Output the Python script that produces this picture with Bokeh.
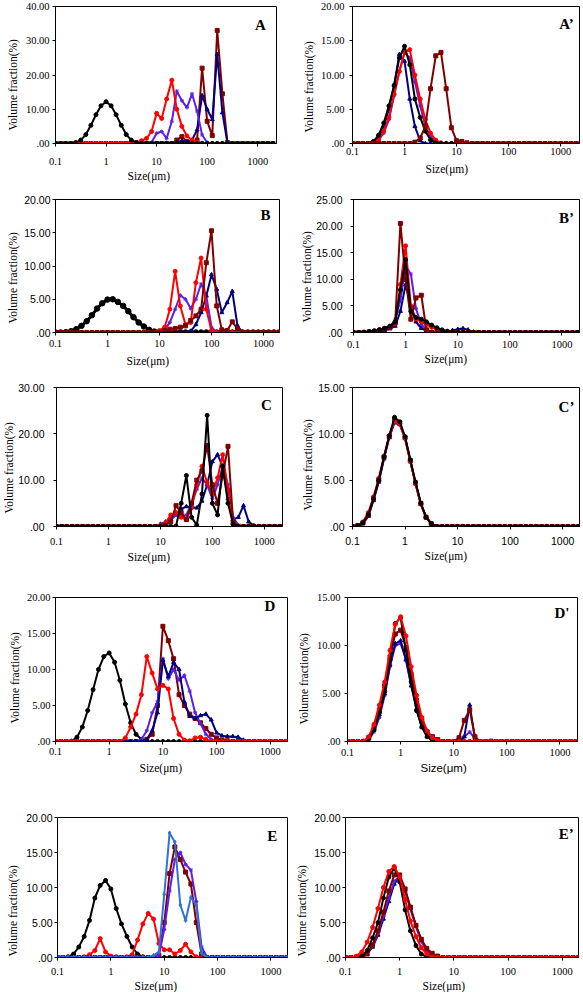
import math
from bokeh.plotting import figure
from bokeh.layouts import column, row
from bokeh.models import Range1d, FixedTicker, CustomJSTickFormatter, Label, Title
from bokeh.embed import file_html
from bokeh.resources import INLINE

# ---------------- data ----------------
SIZES = [0.1, 0.126, 0.158, 0.2, 0.251, 0.316, 0.398, 0.501, 0.631, 0.794,
         1.0, 1.26, 1.58, 2.0, 2.51, 3.16, 3.98, 5.01, 6.31, 7.94,
         10.0, 12.6, 15.8, 20.0, 25.1, 31.6, 39.8, 50.1, 63.1, 79.4,
         100.0, 126.0, 158.0, 200.0, 251.0, 316.0, 398.0, 501.0, 631.0, 794.0,
         1000.0, 1259.0, 1585.0, 1995.0]
N = len(SIZES)


def pad(start, vals):
    return [0.0] * start + list(vals) + [0.0] * (N - start - len(vals))


X_TICKS = [0.1, 1, 10, 100, 1000]
X_LABEL = "Size(μm)"
Y_LABEL = "Volume fraction(%)"

# Panel A
A_BLACK = pad(4, [0.3, 1.0, 2.6, 5.3, 8.4, 11.0, 12.2, 11.0, 8.4, 5.3, 2.6, 1.0, 0.3, 0.05])
A_RED = pad(16, [0.3, 0.8, 1.5, 3.5, 8.8, 7.3, 13.0, 18.5, 10.0, 5.0, 2.2, 1.0, 0.4, 0.1])
A_PURPLE = pad(19, [0.3, 3.0, 3.5, 1.5, 6.5, 15.3, 12.5, 10.5, 14.5, 9.5, 2.5, 0.3])
A_MAROON = pad(24, [1.0, 2.0, 0.5, 0.2, 1.0, 22.0, 6.5, 2.3, 33.0, 14.5, 0.3])
A_NAVY = pad(24, [0.3, 0.8, 0.5, 1.0, 4.0, 14.0, 10.0, 7.0, 26.0, 9.0, 0.3])

# Panel A'
A2_BLACK = pad(4, [0.3, 1.2, 3.0, 5.5, 8.5, 12.5, 14.2, 11.5, 6.5, 3.8, 1.8, 0.5, 0.1])
A2_NAVY = pad(4, [0.2, 0.8, 2.5, 5.0, 8.5, 13.0, 12.0, 6.5, 2.5, 0.4])
A2_PURPLE = pad(5, [0.5, 1.5, 3.5, 7.0, 10.5, 13.3, 12.5, 9.0, 5.5, 2.5, 1.0, 0.3])
A2_RED = pad(4, [0.1, 0.5, 1.8, 3.8, 7.2, 10.5, 13.3, 13.7, 10.0, 6.5, 3.5, 1.5, 0.5, 0.1])
A2_MAROON = pad(12, [0.2, 0.8, 2.5, 8.0, 12.8, 13.3, 8.0, 2.3, 0.4, 0.3, 0.1])

# Panel B
B_BLACK = pad(2, [0.05, 0.2, 0.5, 1.0, 1.7, 2.6, 3.6, 4.4, 4.95, 5.0, 4.6, 4.0, 3.2, 2.3, 1.5, 0.9, 0.4, 0.15])
B_RED = pad(20, [0.3, 0.8, 3.5, 9.2, 4.0, 1.2, 1.5, 7.5, 11.2, 3.5, 0.3])
B_PURPLE = pad(21, [0.5, 1.5, 3.5, 5.6, 5.0, 3.6, 5.0, 7.3, 5.5, 0.8])
B_NAVY = pad(26, [0.2, 1.2, 3.0, 5.5, 8.7, 6.5, 3.0, 4.5, 6.2, 1.0])
B_MAROON = pad(21, [0.3, 0.5, 0.6, 0.8, 1.0, 1.8, 2.5, 3.5, 10.5, 15.3, 4.0, 0.4, 0.3, 1.6, 0.6])

# Panel B'
B2_MAROON = pad(3, [0.1, 0.2, 0.4, 0.7, 1.0, 1.8, 20.5, 10.0, 2.5, 6.5, 7.0, 0.5])
B2_RED = pad(4, [0.2, 0.4, 0.7, 1.1, 1.6, 9.0, 16.3, 5.0, 2.6, 2.0, 1.5, 1.0, 0.6, 0.3, 0.1])
B2_BLACK = pad(2, [0.1, 0.2, 0.35, 0.55, 0.8, 1.2, 2.0, 8.0, 13.7, 4.0, 2.8, 2.5, 2.0, 1.4, 0.9, 0.5, 0.25, 0.1])
B2_PURPLE = pad(5, [0.3, 0.6, 1.0, 2.5, 6.0, 12.5, 11.0, 4.5, 1.5, 0.6, 0.2])
B2_NAVY = pad(6, [0.4, 0.7, 1.2, 4.0, 9.0, 5.0, 2.0, 0.8, 0.3, 0.1, 0.0, 0.0, 0.1, 0.4, 0.6, 0.75, 0.5, 0.1])

# Panel C
C_BLACK = pad(23, [0.1, 5.0, 11.0, 2.0, 0.3, 7.0, 24.0, 5.0, 2.5, 13.0, 5.0, 0.5])
C_MAROON = pad(21, [0.3, 1.0, 4.5, 3.0, 1.5, 5.0, 10.0, 12.0, 17.5, 9.0, 5.0, 11.0, 17.3, 1.0])
C_RED = pad(20, [0.2, 0.8, 2.5, 3.0, 2.0, 1.5, 4.0, 9.0, 13.0, 9.5, 7.0, 10.5, 15.5, 8.0, 0.5])
C_PURPLE = pad(21, [0.5, 1.5, 2.5, 2.0, 2.5, 5.0, 8.0, 10.5, 9.0, 6.0, 9.0, 13.0, 9.0, 2.0, 0.3])
C_NAVY = pad(20, [0.5, 1.0, 1.5, 2.5, 3.8, 4.3, 4.2, 4.0, 5.5, 9.0, 14.0, 15.5, 13.0, 6.0, 1.5, 2.0, 4.5, 1.0, 0.2])

# Panel C'
C2_BLACK = pad(1, [0.1, 0.4, 1.3, 3.0, 5.0, 7.5, 9.8, 11.8, 11.3, 9.7, 7.2, 4.8, 2.5, 1.0, 0.3])
C2_RED = pad(1, [0.1, 0.5, 1.5, 3.2, 5.2, 7.6, 9.8, 11.4, 11.1, 9.5, 7.0, 4.6, 2.4, 1.0, 0.3])
C2_NAVY = pad(1, [0.0, 0.3, 1.1, 2.8, 4.8, 7.3, 9.6, 11.2, 11.0, 9.6, 7.1, 4.7, 2.4, 1.0, 0.3])
C2_PURPLE = pad(1, [0.05, 0.35, 1.2, 2.9, 4.9, 7.4, 9.7, 11.3, 11.0, 9.5, 7.1, 4.7, 2.4, 1.0, 0.3])
C2_MAROON = pad(1, [0.1, 0.4, 1.2, 3.0, 5.0, 7.5, 9.7, 11.5, 11.2, 9.6, 7.1, 4.7, 2.5, 1.0, 0.3])

# Panel D
D_BLACK = pad(3, [0.05, 0.6, 2.0, 4.3, 7.2, 10.0, 11.8, 12.3, 11.0, 8.5, 5.2, 2.6, 1.0, 0.3, 0.05])
D_RED = pad(13, [0.5, 2.0, 3.8, 6.5, 11.8, 9.5, 7.3, 7.8, 7.3, 3.2, 1.0, 0.2, 0.1, 0.5, 0.6, 0.3])
D_PURPLE = pad(16, [0.3, 1.5, 4.0, 5.5, 11.5, 8.7, 10.0, 8.5, 9.2, 7.0, 4.0, 2.5, 1.0, 0.3])
D_MAROON = pad(17, [0.3, 1.0, 5.0, 16.0, 14.0, 11.5, 6.5, 5.0, 3.8, 3.2, 2.6, 1.8, 1.0, 0.5, 0.2, 0.1])
D_NAVY = pad(17, [0.3, 1.5, 4.0, 11.3, 9.0, 11.0, 10.0, 5.5, 3.5, 3.2, 3.6, 3.8, 3.0, 1.2, 0.8, 0.7, 0.7, 0.6, 0.2])

# Panel D'
D2_BLACK = pad(3, [0.05, 0.3, 1.2, 3.0, 5.2, 8.5, 12.3, 12.9, 9.5, 6.2, 3.2, 1.5, 0.5, 0.1])
D2_RED = pad(4, [0.5, 1.8, 3.8, 6.2, 9.5, 12.2, 13.0, 11.0, 7.8, 4.8, 2.5, 1.1, 0.4, 0.1])
D2_MAROON = pad(4, [0.4, 1.5, 3.3, 5.8, 8.8, 11.2, 11.6, 9.8, 7.0, 4.3, 2.2, 1.0, 0.5, 0.2, 0.0, 0.0, 0.0, 0.4, 2.2, 3.3, 0.5])
D2_NAVY = pad(4, [0.3, 1.2, 2.8, 5.0, 8.0, 10.2, 10.5, 8.5, 5.8, 3.4, 1.5, 0.5, 0.1, 0.0, 0.0, 0.0, 0.0, 0.0, 0.5, 3.8, 0.3])
D2_PURPLE = pad(4, [0.2, 1.0, 2.5, 4.8, 7.8, 10.0, 10.2, 8.6, 6.0, 3.6, 1.8, 0.7, 0.2, 0.0, 0.0, 0.0, 0.0, 0.0, 0.5, 1.0, 0.3, 0.0, 0.0, 0.15])

# Panel E
E_BLACK = pad(2, [0.1, 0.5, 1.5, 3.0, 5.3, 8.5, 10.3, 11.0, 9.8, 7.0, 4.8, 3.0, 1.5, 0.5, 0.1])
E_RED = pad(5, [0.1, 0.4, 1.0, 2.7, 0.8, 0.2, 0.1, 0.0, 0.1, 0.4, 2.5, 4.8, 6.3, 5.5, 2.0, 1.1, 1.1, 0.5, 1.0, 1.9, 0.8, 0.1])
E_LIGHTBLUE = pad(18, [0.3, 0.8, 9.0, 17.8, 16.5, 7.5, 5.3, 8.6, 7.5, 0.6])
E_MAROON = pad(19, [0.3, 5.0, 12.0, 15.8, 14.0, 12.2, 10.5, 5.0, 0.5])
E_PURPLE = pad(19, [0.3, 4.0, 9.5, 14.0, 15.0, 13.3, 12.5, 8.0, 1.5, 0.1])

# Panel E'
E2_BLACK = pad(3, [0.2, 1.0, 2.8, 5.0, 8.5, 11.5, 12.8, 10.8, 6.8, 3.8, 1.7, 0.5, 0.1])
E2_RED = pad(2, [0.2, 0.8, 2.2, 4.3, 7.0, 10.0, 12.3, 13.0, 11.5, 8.3, 5.2, 3.0, 1.4, 0.5, 0.1])
E2_NAVY = pad(3, [0.1, 0.5, 1.5, 3.2, 5.5, 8.0, 10.5, 11.5, 9.5, 7.0, 4.5, 2.5, 1.0, 0.3])
E2_PURPLE = pad(3, [0.1, 0.6, 1.7, 3.5, 5.9, 8.5, 10.9, 11.6, 9.6, 7.0, 4.4, 2.3, 0.9, 0.2])
E2_MAROON = pad(4, [0.5, 1.8, 3.8, 6.5, 9.5, 11.8, 11.8, 9.8, 7.2, 4.6, 2.6, 1.3, 0.6, 0.2])

# ---------------- styles ----------------
COLORS = {"black": "#000000", "red": "#FF0000", "purple": "#5B1FE8",
          "navy": "#00007F", "maroon": "#800000", "lightblue": "#2F72D6"}
MARKERS = {"black": "circle", "red": "circle", "purple": "asterisk",
           "navy": "triangle", "maroon": "square", "lightblue": "diamond"}
SERIF = "Liberation Serif"
SANS = "Liberation Sans"

# layout (reference pixel measurements)
COLW = [290, 293]
ROW_REF = [0, 190, 380, 578, 785, 992]
ROW_H = [ROW_REF[i + 1] - ROW_REF[i] for i in range(5)]

# geom = frame (left, right, top, bottom) inside cell; xoff = (tick centre, label centre) below frame
# yoff = (tick gap, label centre) left of frame; ldx = x-label shift from frame centre;
# ldy = y-label shift below frame centre; loff = panel letter offset from top-right corner
PANELS = [
    dict(letter="A", col=0, row=0, ymax=40, ystep=10, xend=2350,
         series=[("maroon", A_MAROON), ("navy", A_NAVY), ("purple", A_PURPLE), ("red", A_RED), ("black", A_BLACK)],
         geom=(54, 276, 5, 143), xoff=(20.3, 30.3), yoff=(6, 44), ldx=-18, ldy=10, loff=(16, 18),
         yf=SERIF, xf=SERIF, lf=SERIF),
    dict(letter="A\u2019", col=1, row=0, ymax=20, ystep=5, xend=2300,
         series=[("navy", A2_NAVY), ("purple", A2_PURPLE), ("red", A2_RED), ("black", A2_BLACK), ("maroon", A2_MAROON)],
         geom=(61.7, 289, 6, 144), xoff=(10.3, 29.3), yoff=(8.4, 43.4), ldx=-19.5, ldy=11.7, loff=(13, 17),
         yf=SERIF, xf=SERIF, lf=SERIF),
    dict(letter="B", col=0, row=1, ymax=20, ystep=5, xend=2030,
         series=[("black", B_BLACK), ("purple", B_PURPLE), ("navy", B_NAVY), ("red", B_RED), ("maroon", B_MAROON)],
         geom=(55, 279.3, 7.3, 141.7), xoff=(13.3, 31.6), yoff=(5, 43.3), ldx=-19.7, ldy=11.3, loff=(14, 15.4),
         yf=SANS, xf=SERIF, lf=SERIF),
    dict(letter="B\u2019", col=1, row=1, ymax=25, ystep=5, xend=2170,
         series=[("navy", B2_NAVY), ("purple", B2_PURPLE), ("red", B2_RED), ("maroon", B2_MAROON), ("black", B2_BLACK)],
         geom=(62.7, 289.3, 9.3, 145.7), xoff=(14.3, 27.6), yoff=(11, 46), ldx=-21, ldy=11.7, loff=(13, 18),
         yf=SANS, xf=SERIF, lf=SERIF),
    dict(letter="C", col=0, row=2, ymax=30, ystep=10, xend=2240,
         series=[("navy", C_NAVY), ("purple", C_PURPLE), ("red", C_RED), ("maroon", C_MAROON), ("black", C_BLACK)],
         geom=(52.3, 281.7, 7.3, 146.7), xoff=(16.6, 31.6), yoff=(11.6, 45.6), ldx=-23, ldy=10.5, loff=(16, 17.7),
         yf=SANS, xf=SERIF, lf=SERIF),
    dict(letter="C\u2019", col=1, row=2, ymax=15, ystep=5, xend=2090,
         series=[("navy", C2_NAVY), ("purple", C2_PURPLE), ("maroon", C2_MAROON), ("red", C2_RED), ("black", C2_BLACK)],
         geom=(61.7, 289.3, 6, 146), xoff=(15.7, 29), yoff=(8.4, 43.4), ldx=-20.8, ldy=8, loff=(13, 19),
         yf=SANS, xf=SANS, lf=SERIF),
    dict(letter="D", col=0, row=3, ymax=20, ystep=5, xend=2090,
         series=[("black", D_BLACK), ("maroon", D_MAROON), ("purple", D_PURPLE), ("navy", D_NAVY), ("red", D_RED)],
         geom=(55, 287.3, 18.7, 164.3), xoff=(11.7, 29.4), yoff=(5, 41.7), ldx=-11.3, ldy=8.5, loff=(17.7, 8.3),
         yf=SERIF, xf=SERIF, lf=SERIF),
    dict(letter="D'", col=1, row=3, ymax=15, ystep=5, xend=2140,
         series=[("purple", D2_PURPLE), ("navy", D2_NAVY), ("maroon", D2_MAROON), ("black", D2_BLACK), ("red", D2_RED)],
         geom=(56.7, 287.3, 18.7, 163), xoff=(13, 29), yoff=(7.4, 44), ldx=-19.5, ldy=8.7, loff=(15.6, 15),
         yf=SERIF, xf=SERIF, lf=SANS),
    dict(letter="E", col=0, row=4, ymax=20, ystep=5, xend=2040,
         series=[("black", E_BLACK), ("red", E_RED), ("maroon", E_MAROON), ("purple", E_PURPLE), ("lightblue", E_LIGHTBLUE)],
         geom=(55, 287.3, 30, 171.7), xoff=(15.6, 28.3), yoff=(5, 46.7), ldx=-17.8, ldy=23, loff=(15.3, 18.3),
         yf=SANS, xf=SERIF, lf=SERIF),
    dict(letter="E\u2019", col=1, row=4, ymax=20, ystep=5, xend=2000,
         series=[("navy", E2_NAVY), ("purple", E2_PURPLE), ("maroon", E2_MAROON), ("black", E2_BLACK), ("red", E2_RED)],
         geom=(55, 288.3, 31.7, 171.7), xoff=(15.6, 27.6), yoff=(5, 45), ldx=-18.4, ldy=23, loff=(12.3, 16.6),
         yf=SANS, xf=SERIF, lf=SERIF),
]

TICK_PX = 10.5
LABEL_PX = 11.5

# approximate advance widths (em) for layout estimates
SERIF_W = {"S": .556, "i": .278, "z": .444, "e": .444, "(": .333, ")": .333, "μ": .5, "m": .778,
           "V": .722, "o": .5, "l": .278, "u": .5, " ": .25, "f": .333, "r": .333, "a": .444,
           "c": .444, "t": .278, "n": .5, "%": .833, ".": .25}
SANS_W = {"S": .667, "i": .222, "z": .5, "e": .556, "(": .333, ")": .333, "μ": .556, "m": .833,
          ".": .278}


def text_width(s, font, px):
    table = SERIF_W if font == SERIF else SANS_W
    w = 0.0
    for ch in s:
        if ch.isdigit():
            w += 0.5 if font == SERIF else 0.556
        else:
            w += table.get(ch, 0.5)
    return w * px


def make_panel(P):
    W = COLW[P["col"]]
    H = ROW_H[P["row"]]
    L, R, T, B = P["geom"]
    p = figure(width=W, height=H, x_axis_type="log",
               x_range=Range1d(0.1, P["xend"]), y_range=Range1d(0, P["ymax"]),
               output_backend="svg", toolbar_location=None,
               min_border_left=round(L), min_border_right=W - round(R),
               min_border_top=round(T), min_border_bottom=H - round(B))
    p.xgrid.visible = False
    p.ygrid.visible = False
    p.outline_line_color = "black"
    p.outline_line_width = 1
    p.outline_line_alpha = 1
    p.background_fill_color = "white"
    p.border_fill_color = "white"

    for name, vals in P["series"]:
        c = COLORS[name]
        heavy = (name == "black" and P["letter"] == "B")
        p.line(SIZES, vals, line_color=c, line_width=3 if heavy else 2)
        p.scatter(SIZES, vals, marker=MARKERS[name], size=5.5 if heavy else 4,
                  line_color=c, fill_color=c, line_width=1)

    th = TICK_PX * 1.15
    lh = LABEL_PX * 1.15
    # x axis
    xa = p.xaxis[0]
    xa.ticker = FixedTicker(ticks=X_TICKS, minor_ticks=[])
    xa.formatter = CustomJSTickFormatter(code="return tick < 1 ? tick.toFixed(1) : tick.toFixed(0);")
    xa.major_label_text_font = P["xf"]
    xa.major_label_text_font_size = f"{TICK_PX}px"
    xs = max(0, round(P["xoff"][0] - 3 - th / 2))
    xa.major_label_standoff = xs
    # y axis
    ya = p.yaxis[0]
    ticks = list(range(0, P["ymax"] + 1, P["ystep"]))
    ya.ticker = FixedTicker(ticks=ticks, minor_ticks=[])
    ya.formatter = CustomJSTickFormatter(code="return tick == 0 ? '.00' : tick.toFixed(2);")
    ya.major_label_text_font = P["yf"]
    ya.major_label_text_font_size = f"{TICK_PX}px"
    ys = max(0, round(P["yoff"][0] - 3))
    ya.major_label_standoff = ys
    for a in (xa, ya):
        a.major_tick_out = 3
        a.major_tick_in = 0
        a.minor_tick_out = 0
        a.minor_tick_in = 0
        a.axis_line_color = "black"
        a.major_tick_line_color = "black"
        a.major_label_text_color = "black"

    # axis titles as side titles, left-aligned with an offset so that their centres
    # sit where the reference has them (slightly off the frame centre)
    xw = text_width(X_LABEL, P["lf"], LABEL_PX)
    x_title_standoff = max(0, round(P["xoff"][1] - lh / 2 - (3 + xs + th)))
    p.add_layout(Title(text=X_LABEL, align="left",
                       offset=round((R - L) / 2 + P["ldx"] - xw / 2),
                       standoff=x_title_standoff, text_font=P["lf"],
                       text_font_size=f"{LABEL_PX}px", text_font_style="normal",
                       text_color="black"), "below")
    yw = text_width(Y_LABEL, SERIF, LABEL_PX)
    tw = max(text_width(f"{t:.2f}" if t else ".00", P["yf"], TICK_PX) for t in ticks)
    y_title_standoff = max(0, round(P["yoff"][1] - lh / 2 - (3 + ys + tw)))
    p.add_layout(Title(text=Y_LABEL, align="left",
                       offset=round((B - T) / 2 - P["ldy"] - yw / 2),
                       standoff=y_title_standoff, text_font=SERIF,
                       text_font_size=f"{LABEL_PX}px", text_font_style="normal",
                       text_color="black"), "left")
    # panel letter
    p.add_layout(Label(x=P["xend"], y=P["ymax"], x_offset=-P["loff"][0],
                       y_offset=-P["loff"][1], text=P["letter"],
                       text_font=SERIF, text_font_style="bold", text_font_size="15px",
                       text_align="center", text_baseline="middle", text_color="black"))
    return p


figs = [make_panel(P) for P in PANELS]
rows = [row(figs[2 * i], figs[2 * i + 1]) for i in range(5)]
layout = column(*rows)

open("out.html", "w").write(file_html(layout, INLINE))
